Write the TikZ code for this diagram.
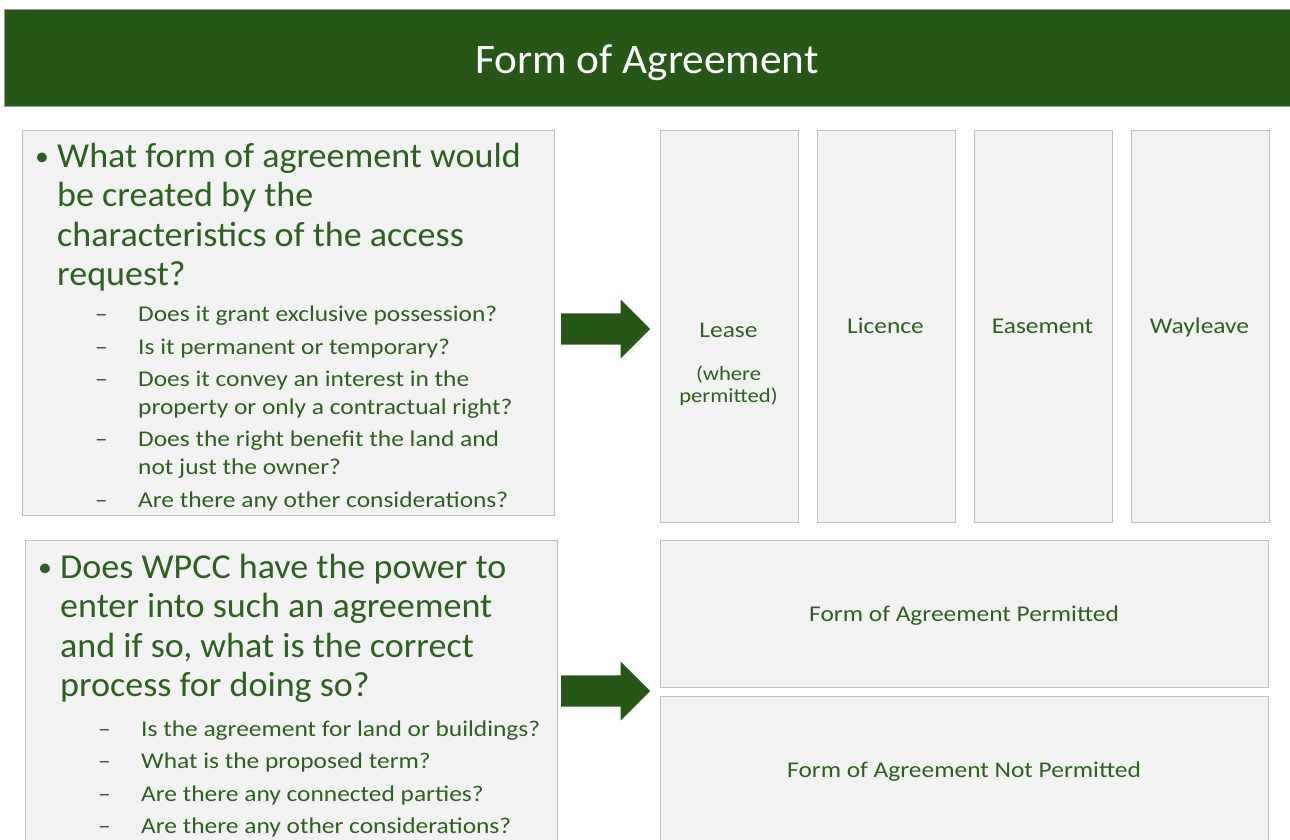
\documentclass[tikz,border=0pt]{standalone}
\usepackage{fontspec}
\setmainfont{Carlito}
\newfontfamily\bigfont[FakeStretch=1.03]{Carlito}
\newfontfamily\smallfont[FakeStretch=1.13]{Carlito}
\usepackage{xcolor}
\usetikzlibrary{positioning,shapes.arrows}
\definecolor{wpgreen}{HTML}{275717}
\definecolor{txtgreen}{HTML}{2E6022}
\definecolor{panelgrey}{HTML}{F2F2F2}
\definecolor{edgegrey}{HTML}{C0C0C0}
\newcommand{\fsz}[2]{\fontsize{#1}{#2}\selectfont}

\begin{document}
\begin{tikzpicture}[x=1pt,y=-1pt,
	panel/.style={draw=edgegrey,fill=panelgrey,line width=1pt,anchor=north west,inner sep=0},
	bigq/.style={text=txtgreen,anchor=base west,inner sep=0,font=\bigfont\fsz{35}{40}},
	dot/.style={text=txtgreen,anchor=base west,inner sep=0,font=\bigfont\fsz{27}{30}},
	subq/.style={text=txtgreen,anchor=base west,inner sep=0,font=\smallfont\fsz{22.5}{28}},
	lbl/.style={text=txtgreen,anchor=base,inner sep=0,font=\smallfont\fsz{22.5}{28}},
	blockarrow/.style={single arrow,fill=wpgreen,inner xsep=0,inner ysep=15.5pt,minimum height=89pt,single arrow head extend=14pt,anchor=tail}]
\useasboundingbox (0,0) rectangle (1290,839);
\clip (0,0) rectangle (1290,839);

%title bar
\node[panel,draw=gray!80,fill=wpgreen,minimum width=1290,minimum height=97] (bar) at (4,9) {};
\node[text=white,anchor=base,inner sep=0,font=\bigfont\fsz{42}{48}] (title) at (647,73) {Form of Agreement};

%question panels
\node[panel,minimum width=532,minimum height=385] (q1) at (22,130) {};
\node[panel,minimum width=532,minimum height=320] (q2) at (25,540) {};

%first question
\node[dot] (b1) at (35,165) {•};
\foreach \y/\t [count=\i] in {167/{What form of agreement would},206/{be created by the},246/{characteristics of the access},285/{request?}}
	\node[bigq] (qa\i) at (57,\y) {\t};
\foreach \y/\t [count=\i] in {321/{Does it grant exclusive possession?},354/{Is it permanent or temporary?},386/{Does it convey an interest in the},414/{property or only a contractual right?},446/{Does the right benefit the land and},474/{not just the owner?},507/{Are there any other considerations?}}
	\node[subq] (sa\i) at (138,\y) {\t};
\foreach \y [count=\i] in {321,354,386,446,507}
	\node[subq] (da\i) at (95,\y) {–};

%second question
\node[dot] (b2) at (38,576) {•};
\foreach \y/\t [count=\i] in {578/{Does WPCC have the power to},617/{enter into such an agreement},657/{and if so, what is the correct},696/{process for doing so?}}
	\node[bigq] (qb\i) at (60,\y) {\t};
\foreach \y/\t [count=\i] in {736/{Is the agreement for land or buildings?},768/{What is the proposed term?},801/{Are there any connected parties?},833/{Are there any other considerations?}}
	\node[subq] (sb\i) at (141,\y) {\t};
\foreach \y [count=\i] in {736,768,801,833}
	\node[subq] (db\i) at (98,\y) {–};

%arrows
\node[blockarrow] (arr1) at (561,329) {};
\node[blockarrow] (arr2) at (561,691) {};

%forms of agreement
\foreach \i in {0,...,3}
	\node[panel,minimum width=137.5,minimum height=392] (f\i) at (660+157*\i,130) {};
\node[lbl] (lease) at (728.5,337) {Lease};
\node[lbl,font=\smallfont\fsz{20}{23}] (lease2) at (728.5,380) {(where};
\node[lbl,font=\smallfont\fsz{20}{23}] (lease3) at (728.5,402) {permitted)};
\node[lbl] (licence) at (885.5,333) {Licence};
\node[lbl] (easement) at (1042.5,333) {Easement};
\node[lbl] (wayleave) at (1199.5,333) {Wayleave};

%outcome panels
\node[panel,minimum width=608,minimum height=147] (yes) at (660,540) {};
\node[panel,minimum width=608,minimum height=150] (no) at (660,696) {};
\node[lbl] (yest) at (964,621) {Form of Agreement Permitted};
\node[lbl] (not) at (964,777) {Form of Agreement Not Permitted};
\end{tikzpicture}
\end{document}
